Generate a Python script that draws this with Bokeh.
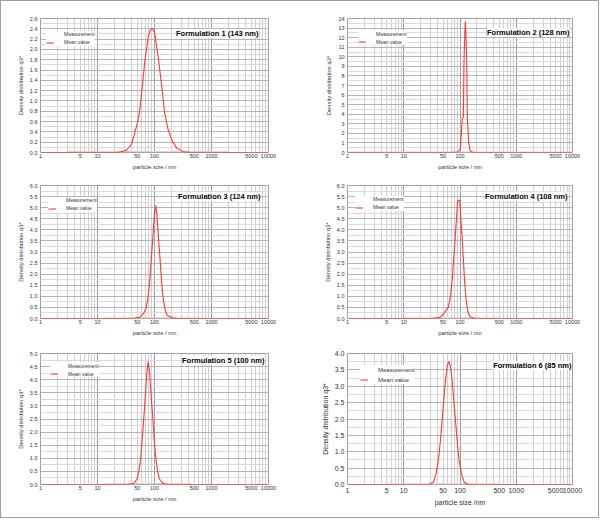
from bokeh.plotting import figure
from bokeh.layouts import gridplot
from bokeh.models import FixedTicker, PrintfTickFormatter, Label, Legend, LegendItem
from bokeh.embed import file_html
from bokeh.resources import INLINE

# ---------------- data ----------------
x_ticks = [1, 5, 10, 50, 100, 500, 1000, 5000, 10000]
x_tick_labels = ["1", "5", "10", "50", "100", "500", "1000", "5000", "10000"]
x_decades = [1, 10, 100, 1000, 10000]
x_minor = [2, 3, 4, 5, 6, 7, 8, 9, 20, 30, 40, 50, 60, 70, 80, 90,
           200, 300, 400, 500, 600, 700, 800, 900, 2000, 3000, 4000, 5000, 6000, 7000, 8000, 9000]

titles = ["Formulation 1 (143 nm)", "Formulation 2 (128 nm)", "Formulation 3 (124 nm)",
          "Formulation 4 (108 nm)", "Formulation 5 (100 nm)", "Formulation 6 (85 nm)"]
legend_labels = ["Measurement", "Mean value"]
x_label = "particle size / nm"
x_label6 = "particle size /nm"
y_label = "Density distribution q3*"

y_ticks1 = [0.0, 0.2, 0.4, 0.6, 0.8, 1.0, 1.2, 1.4, 1.6, 1.8, 2.0, 2.2, 2.4, 2.6]
y_ticks2 = [0, 1, 2, 3, 4, 5, 6, 7, 8, 9, 10, 11, 12, 13, 14]
y_ticks3 = [0.0, 0.5, 1.0, 1.5, 2.0, 2.5, 3.0, 3.5, 4.0, 4.5, 5.0, 5.5, 6.0]
y_ticks4 = [0.0, 0.5, 1.0, 1.5, 2.0, 2.5, 3.0, 3.5, 4.0, 4.5, 5.0, 5.5, 6.0]
y_ticks5 = [0.0, 0.5, 1.0, 1.5, 2.0, 2.5, 3.0, 3.5, 4.0, 4.5, 5.0]
y_ticks6 = [0.0, 0.5, 1.0, 1.5, 2.0, 2.5, 3.0, 3.5, 4.0]

size1 = [1, 23, 32.4, 39.8, 45.5, 50.7, 55.7, 61.4, 68.2, 78.3, 84.1, 90.8, 97.7, 102.6,
         117.5, 134.6, 150.0, 171.8, 201.8, 247, 324, 447, 10000]
dens1 = [0, 0, 0.045, 0.17, 0.40, 0.59, 0.85, 1.30, 1.81, 2.26, 2.37, 2.41, 2.36, 2.26,
         1.81, 1.27, 0.78, 0.46, 0.24, 0.08, 0.013, 0, 0]

size2 = [1, 65.5, 92, 101.4, 109.9, 114.6, 117.8, 121.3, 124.5, 127.9, 131.8, 134.9,
         142.9, 151, 170.6, 10000]
dens2 = [0, 0, 0.05, 0.35, 3.57, 3.67, 9.44, 12.2, 13.7, 12.2, 9.44, 3.67,
         1.05, 0.18, 0, 0]

size3 = [1, 40, 45.8, 56.2, 64.4, 70.8, 76.7, 82.2, 87.9, 94.2, 99.3, 105, 110.7, 116.7,
         125, 131.8, 139.6, 151.4, 166.3, 203.7, 250, 10000]
dens3 = [0, 0, 0.02, 0.07, 0.23, 0.45, 0.90, 1.65, 2.70, 3.75, 4.65, 5.10, 4.65, 3.75,
         2.70, 1.80, 1.05, 0.45, 0.15, 0.03, 0, 0]

size4 = [1, 28, 33.5, 44, 50.1, 57.5, 61.9, 68.2, 72.9, 77.3, 82.6, 87.3, 91, 98.9,
         102.8, 108.6, 114.6, 121.1, 127.9, 137.1, 150.7, 184.9, 10000]
dens4 = [0, 0, 0.01, 0.05, 0.18, 0.40, 0.50, 1.03, 1.78, 2.69, 3.74, 4.65, 5.33, 5.33,
         4.65, 3.74, 2.69, 1.63, 0.88, 0.35, 0.08, 0, 0]

size5 = [1, 34.7, 43.4, 49.5, 53.6, 57.4, 61.2, 65.5, 70.0, 73.6, 77.6, 82.0, 86.3, 92.5,
         98.4, 105.2, 112.7, 121.9, 139, 169.4, 10000]
dens5 = [0, 0, 0.05, 0.21, 0.53, 1.03, 1.78, 2.66, 3.53, 4.29, 4.69, 4.29, 3.53, 2.66,
         1.78, 1.03, 0.53, 0.21, 0.05, 0, 0]

size6 = [1, 28.2, 33.6, 36.9, 39.4, 42.2, 45.1, 48.3, 51.5, 55.2, 59.2, 63.1, 67.6, 72.4,
         77.3, 82.8, 88.5, 94.4, 101.2, 108.4, 118.9, 141.3, 10000]
dens6 = [0, 0, 0.07, 0.27, 0.52, 0.88, 1.38, 1.99, 2.59, 3.20, 3.61, 3.76, 3.61, 3.20,
         2.59, 1.99, 1.38, 0.88, 0.52, 0.27, 0.07, 0, 0]

meas_x1, meas_y1 = [3, 2000], [0.02, 0.02]
meas_x2, meas_y2 = [1, 10000], [0.05, 0.05]
meas_x3, meas_y3 = [13, 600], [0.03, 0.03]
meas_x4, meas_y4 = [10, 500], [0.03, 0.03]
meas_x5, meas_y5 = [13, 450], [0.03, 0.03]
meas_x6, meas_y6 = [5, 500], [0.02, 0.02]

panels = [
    (titles[0], size1, dens1, meas_x1, meas_y1, y_ticks1, "%.1f", x_label),
    (titles[1], size2, dens2, meas_x2, meas_y2, y_ticks2, "%d", x_label),
    (titles[2], size3, dens3, meas_x3, meas_y3, y_ticks3, "%.1f", x_label),
    (titles[3], size4, dens4, meas_x4, meas_y4, y_ticks4, "%.1f", x_label),
    (titles[4], size5, dens5, meas_x5, meas_y5, y_ticks5, "%.1f", x_label),
    (titles[5], size6, dens6, meas_x6, meas_y6, y_ticks6, "%.1f", x_label6),
]

# ---------------- styles / layout ----------------
styles = [
    dict(w=299, h=174, bl=39, br=32, bt=17, bb=23, tdx=10, tdy=15, ldx=8, lrow=14, tfs="5.5px", afs="5.8px", lfs="5px", lh=7, xs=1),
    dict(w=298, h=174, bl=45, br=26, bt=17, bb=23, tdx=5, tdy=14, ldx=13, lrow=13.7, tfs="5.5px", afs="5.8px", lfs="5px", lh=7, xs=1),
    dict(w=299, h=170, bl=39, br=32, bt=10, bb=27, tdx=8, tdy=11, ldx=10, lrow=13.3, tfs="5.5px", afs="5.8px", lfs="5px", lh=7, xs=1),
    dict(w=298, h=170, bl=47, br=25, bt=10, bb=27, tdx=6, tdy=10.7, ldx=10, lrow=12.3, tfs="5.5px", afs="5.8px", lfs="5px", lh=7, xs=1),
    dict(w=299, h=172, bl=35, br=32, bt=8, bb=31, tdx=8, tdy=8.7, ldx=12, lrow=12.7, tfs="5.5px", afs="5.8px", lfs="5px", lh=7, xs=1),
    dict(w=298, h=172, bl=45, br=23, bt=7, bb=33, tdx=6, tdy=13, ldx=15, lrow=15.7, tfs="7px", afs="7px", lfs="6px", lh=9, xs=3),
]

FONT = "Liberation Sans"
RED = "#ff3636"

figs = []
for (title, xs_, ys_, mx, my, yt, yfmt, xl), st in zip(panels, styles):
    fw = st["w"] - st["bl"] - st["br"]
    fh = st["h"] - st["bt"] - st["bb"]
    p = figure(width=st["w"], height=st["h"], x_axis_type="log", x_range=(x_ticks[0], x_ticks[-1]),
               y_range=(yt[0], yt[-1]), output_backend="svg", toolbar_location=None, title=None,
               min_border_left=st["bl"], min_border_right=st["br"],
               min_border_top=st["bt"], min_border_bottom=st["bb"])
    p.background_fill_color = "white"
    p.border_fill_color = "white"
    p.outline_line_color = "#a0a0a0"

    p.xaxis.ticker = FixedTicker(ticks=x_ticks)
    p.xaxis.formatter = PrintfTickFormatter(format="%d")
    p.xaxis.major_label_overrides = dict(zip(x_ticks, x_tick_labels))
    p.yaxis.ticker = FixedTicker(ticks=yt)
    p.yaxis.formatter = PrintfTickFormatter(format=yfmt)

    p.xgrid.ticker = FixedTicker(ticks=x_decades, minor_ticks=x_minor)
    p.xgrid.grid_line_color = "#9c9c9c"
    p.xgrid.minor_grid_line_color = "#d0d0d0"
    p.ygrid.ticker = FixedTicker(ticks=yt, minor_ticks=[(a + b) / 2 for a, b in zip(yt[:-1], yt[1:])])
    p.ygrid.grid_line_color = "#b4b4b4"
    p.ygrid.minor_grid_line_color = "#dadada"

    p.xaxis.axis_label = xl
    p.yaxis.axis_label = y_label
    for ax in (p.xaxis, p.yaxis):
        ax.axis_line_color = None
        ax.major_tick_line_color = None
        ax.minor_tick_line_color = None
        ax.major_tick_out = 0
        ax.major_tick_in = 0
        ax.major_label_text_font = FONT
        ax.major_label_text_font_size = st["tfs"]
        ax.major_label_text_color = "#333333"
        ax.axis_label_text_font = FONT
        ax.axis_label_text_font_size = st["afs"]
        ax.axis_label_text_font_style = "normal"
        ax.axis_label_text_color = "#333333"
        ax.axis_label_standoff = 3
    p.xaxis.major_label_standoff = st["xs"]
    p.yaxis.major_label_standoff = 3

    p.line(mx, my, line_color="#f6c4c4", line_width=1)
    curve = p.line(xs_, ys_, line_color=RED, line_width=1.1)
    dummy = p.line([], [], line_color="white", line_width=1)

    pad, sp, lh = 2, 1, st["lh"]
    leg_h = 2 * pad + 2 * lh + sp
    top_gap = st["lrow"] - pad - lh / 2
    legend = Legend(items=[LegendItem(label=legend_labels[0], renderers=[dummy]),
                           LegendItem(label=legend_labels[1], renderers=[curve])],
                    location=(st["ldx"] - pad, fh - top_gap - leg_h),
                    margin=0, padding=pad, spacing=sp,
                    label_text_font=FONT, label_text_font_size=st["lfs"], label_text_color="#333333",
                    label_height=lh, glyph_height=lh, glyph_width=8, label_standoff=10,
                    background_fill_color="white", background_fill_alpha=1.0,
                    border_line_color=None)
    p.add_layout(legend)

    p.add_layout(Label(x=fw - st["tdx"], y=fh - st["tdy"], x_units="screen", y_units="screen",
                       text=title, text_align="right", text_baseline="middle",
                       text_font=FONT, text_font_size="7.5px", text_font_style="bold",
                       text_color="black", background_fill_color="white"))
    figs.append(p)

grid = gridplot([[figs[0], figs[1]], [figs[2], figs[3]], [figs[4], figs[5]]],
                toolbar_location=None)
grid.styles = {"border": "1px solid #a0a0a0"}

open("out.html", "w").write(file_html(grid, INLINE))
